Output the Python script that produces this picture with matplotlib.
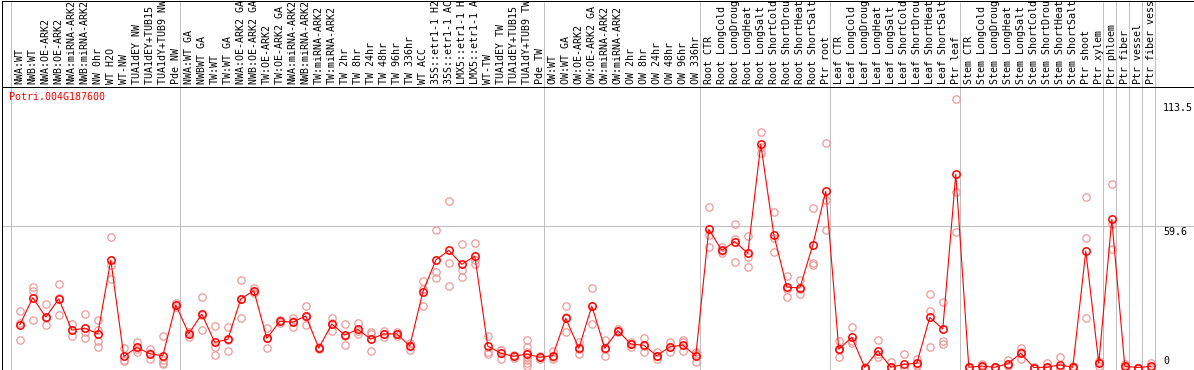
import matplotlib
matplotlib.use("Agg")
import matplotlib.pyplot as plt
import matplotlib.transforms as mtransforms

labels = [
    "NWA:WT", "NWB:WT", "NWA:OE-ARK2", "NWB:OE-ARK2", "NWA:miRNA-ARK2", "NWB:miRNA-ARK2",
    "NW 0hr", "WT H2O", "WT-NW", "TUA1dEY NW", "TUA1dEY+TUB15 NW", "TUA1dY+TUB9 NW", "Pde NW",
    "NWA:WT GA", "NWBWT GA", "TW:WT", "TW:WT GA", "NWA:OE-ARK2 GA", "NWB:OE-ARK2 GA",
    "TW:OE-ARK2", "TW:OE-ARK2 GA", "NWA:miRNA-ARK2", "NWB:miRNA-ARK2", "TW:miRNA-ARK2",
    "TW:miRNA-ARK2", "TW 2hr", "TW 8hr", "TW 24hr", "TW 48hr", "TW 96hr", "TW 336hr",
    "WT ACC", "35S::etr1-1 H2O", "35S::etr1-1 ACC", "LMX5::etr1-1 H2O", "LMX5::etr1-1 ACC",
    "WT-TW", "TUA1dEY TW", "TUA1dEY+TUB15 TW", "TUA1dY+TUB9 TW", "Pde TW",
    "OW:WT", "OW:WT GA", "OW:OE-ARK2", "OW:OE-ARK2 GA", "OW:miRNA-ARK2", "OW:miRNA-ARK2",
    "OW 2hr", "OW 8hr", "OW 24hr", "OW 48hr", "OW 96hr", "OW 336hr",
    "Root CTR", "Root LongCold", "Root LongDrought", "Root LongHeat", "Root LongSalt",
    "Root ShortCold", "Root ShortDrought", "Root ShortHeat", "Root ShortSalt", "Ptr root",
    "Leaf CTR", "Leaf LongCold", "Leaf LongDrought", "Leaf LongHeat", "Leaf LongSalt",
    "Leaf ShortCold", "Leaf ShortDrought", "Leaf ShortHeat", "Leaf ShortSalt", "Ptr leaf",
    "Stem CTR", "Stem LongCold", "Stem LongDrought", "Stem LongHeat", "Stem LongSalt",
    "Stem ShortCold", "Stem ShortDrought", "Stem ShortHeat", "Stem ShortSalt",
    "Ptr shoot", "Ptr xylem", "Ptr phloem", "Ptr fiber", "Ptr vessel", "Ptr fiber vessel",
]

means = [
    18.0, 29.5, 21.3, 29.0, 15.8, 16.6, 14.3, 45.4, 4.7, 8.5, 5.8, 5.0, 26.4,
    14.3, 22.6, 10.6, 11.9, 29.0, 32.5, 12.3, 19.5, 19.2, 21.8, 8.2, 18.4, 13.7,
    16.1, 12.0, 14.2, 14.2, 9.1, 31.9, 45.4, 49.5, 43.6, 47.1, 9.0, 6.1, 4.7,
    5.7, 4.3, 5.0, 20.8, 8.1, 26.0, 8.1, 15.6, 9.9, 9.4, 5.0, 8.7, 9.5, 4.9,
    58.4, 49.5, 53.2, 48.3, 94.3, 56.1, 34.0, 33.6, 51.8, 74.5,
    7.7, 12.8, 0.0, 7.1, 0.1, 1.3, 1.8, 21.2, 16.3, 81.7,
    0.1, 0.6, 0.1, 1.6, 6.0, 0.0, 0.1, 1.1, 0.1,
    49.2, 1.8, 62.6, 0.5, 0.0, 0.5,
]

replicates = [
    [23.7, 18.8, 11.5], [34.0, 32.5, 19.9], [26.8, 20.8, 18.0], [35.2, 29.5, 22.2],
    [18.5, 15.9, 13.2], [22.6, 15.1, 12.3], [19.9, 15.8, 11.3, 8.5], [55.0, 43.3, 37.3],
    [8.1, 3.2, 2.9], [10.9, 7.9, 6.7], [7.7, 6.2, 3.5], [13.3, 3.0, 2.0, 1.5],
    [27.3, 26.4, 25.5], [15.0, 14.8, 13.0], [29.7, 22.4, 15.7], [17.5, 8.8, 5.1],
    [17.0, 11.7, 7.0], [37.0, 29.0, 20.9], [33.5, 32.5, 31.5], [16.6, 12.3, 8.1],
    [20.0, 19.5, 19.0], [20.8, 19.6, 17.2], [26.0, 21.3, 18.1], [8.6, 8.2, 7.8],
    [20.8, 18.8, 15.6], [18.4, 13.3, 9.4], [18.9, 15.4, 14.0], [15.1, 14.0, 7.1],
    [15.6, 14.2, 12.8], [15.1, 14.2, 13.3], [10.2, 9.7, 7.4], [36.6, 33.2, 26.0],
    [58.0, 40.5, 37.7], [70.2, 44.0, 34.3], [52.1, 41.2, 38.1], [52.6, 45.5, 43.6],
    [13.2, 6.7, 5.6], [7.4, 7.3, 3.6], [5.3, 4.7, 3.9],
    [11.5, 8.8, 6.7, 4.6, 3.2, 1.8, 0.7], [5.0, 4.3, 3.6], [6.9, 4.5, 3.6],
    [26.0, 21.3, 15.1], [10.9, 7.8, 5.6], [33.6, 26.1, 18.3], [11.5, 7.9, 4.9],
    [16.1, 15.6, 15.1], [10.9, 10.0, 8.8], [12.3, 9.2, 6.7], [6.7, 4.7, 3.6],
    [10.9, 8.5, 6.7], [11.6, 10.9, 6.9], [6.7, 5.5, 2.5],
    [67.7, 56.0, 51.1], [51.1, 49.1, 48.3], [60.7, 54.3, 44.5], [55.6, 46.7, 42.6],
    [99.4, 93.0, 90.5], [65.6, 54.6, 48.7], [38.7, 33.2, 29.7], [36.9, 33.0, 30.9],
    [67.3, 44.0, 43.4], [94.8, 70.8, 58.1],
    [11.2, 7.6, 4.3], [17.2, 11.0, 10.2], [0.3, 0.0, 0.0], [11.6, 5.6, 4.6],
    [2.5, 0.1, 0.0], [5.7, 0.3, 0.1], [3.6, 1.2, 0.5], [30.9, 23.9, 8.7],
    [27.6, 11.2, 9.9], [113.5, 74.0, 57.4],
    [0.3, 0.1, 0.0], [1.3, 0.5, 0.2], [0.3, 0.1, 0.0], [3.2, 1.2, 0.5],
    [8.1, 6.4, 3.5], [0.2, 0.0, 0.0], [1.8, 0.0, 0.0], [4.4, 0.3, 0.0], [0.8, 0.0, 0.0],
    [71.9, 54.6, 20.8], [2.8, 1.8, 0.8], [77.6, 60.5, 50.0], [1.6, 0.2, 0.0],
    [0.0, 0.0, 0.0], [1.8, 0.3, 0.0],
]

group_starts = [0, 13, 41, 53, 63, 73, 84, 85, 86, 87, 88]
gene_name = "Potri.004G187600"
ytick_values = [113.5, 59.6, 0]
ytick_text = ["113.5", "59.6", "0"]

W, H = 1194, 370
DPI = 100
fig = plt.figure(figsize=(W / DPI, H / DPI), dpi=DPI)
fig.patch.set_facecolor("white")

def fx(px):
    return px / W

def fy(py_from_bottom):
    return py_from_bottom / H

left_px, right_px = 1.5, 1193.5
main_bottom, main_top = 0.5, 283.5
top_top = 369.5

ax = fig.add_axes([fx(left_px), fy(main_bottom), fx(right_px - left_px), fy(main_top - main_bottom)])
axt = fig.add_axes([fx(left_px), fy(main_top), fx(right_px - left_px), fy(top_top - main_top)])

# x mapping: index i at pixel 19.8 + 13*i
step = 13.0
x0 = 19.8
xmin = (left_px - x0) / step
xmax = (right_px - x0) / step

# y mapping: value v at pixel (from bottom) 2.5 + 2.366*v
yscale = 2.366
yzero = 2.5
ymin = (main_bottom - yzero) / yscale
ymax = (main_top - yzero) / yscale

mono = "DejaVu Sans Mono"
lw_px = 72.0 / DPI

for a in (ax, axt):
    a.set_xlim(xmin, xmax)
    a.set_xticks([])
    a.set_yticks([])
    for s in a.spines.values():
        s.set_linewidth(lw_px)
        s.set_color("black")
    for g in group_starts:
        a.axvline(g - 8.5 / step, color="#c0c0c0", lw=lw_px, zorder=0)

ax.set_ylim(ymin, ymax)
axt.set_ylim(0, 1)
axt.spines["bottom"].set_visible(False)

ax.axhline(59.6, color="#c0c0c0", lw=lw_px, zorder=0)

xs = list(range(len(labels)))
for i, reps in enumerate(replicates):
    ax.plot([i] * len(reps), reps, linestyle="none", marker="o", ms=5.3,
            mfc="none", mec="#ec9a9a", mew=0.9, zorder=2, clip_on=False)

ax.plot(xs, means, color="red", lw=lw_px * 1.1, zorder=3)
ax.plot(xs, means, linestyle="none", marker="o", ms=5.3, mfc="none",
        mec="red", mew=1.1, zorder=4)

trans = mtransforms.blended_transform_factory(axt.transData, axt.transAxes)
for i, lab in enumerate(labels):
    axt.text(i, 2.5 / 86, lab, rotation=90, ha="center", va="bottom",
             fontsize=7.2, family=mono, color="black", transform=trans,
             clip_on=True)

fig.text(fx(9.3), fy(H - 97.3), gene_name, color="red", fontsize=7.2,
         family=mono, ha="left", va="center")

label_rows = [108, 232, 361.5]
for t, r in zip(ytick_text, label_rows):
    fig.text(fx(1163), fy(H - r), t, color="black", fontsize=7.2,
             family=mono, ha="left", va="center")

fig.savefig("out.png", dpi=DPI)
